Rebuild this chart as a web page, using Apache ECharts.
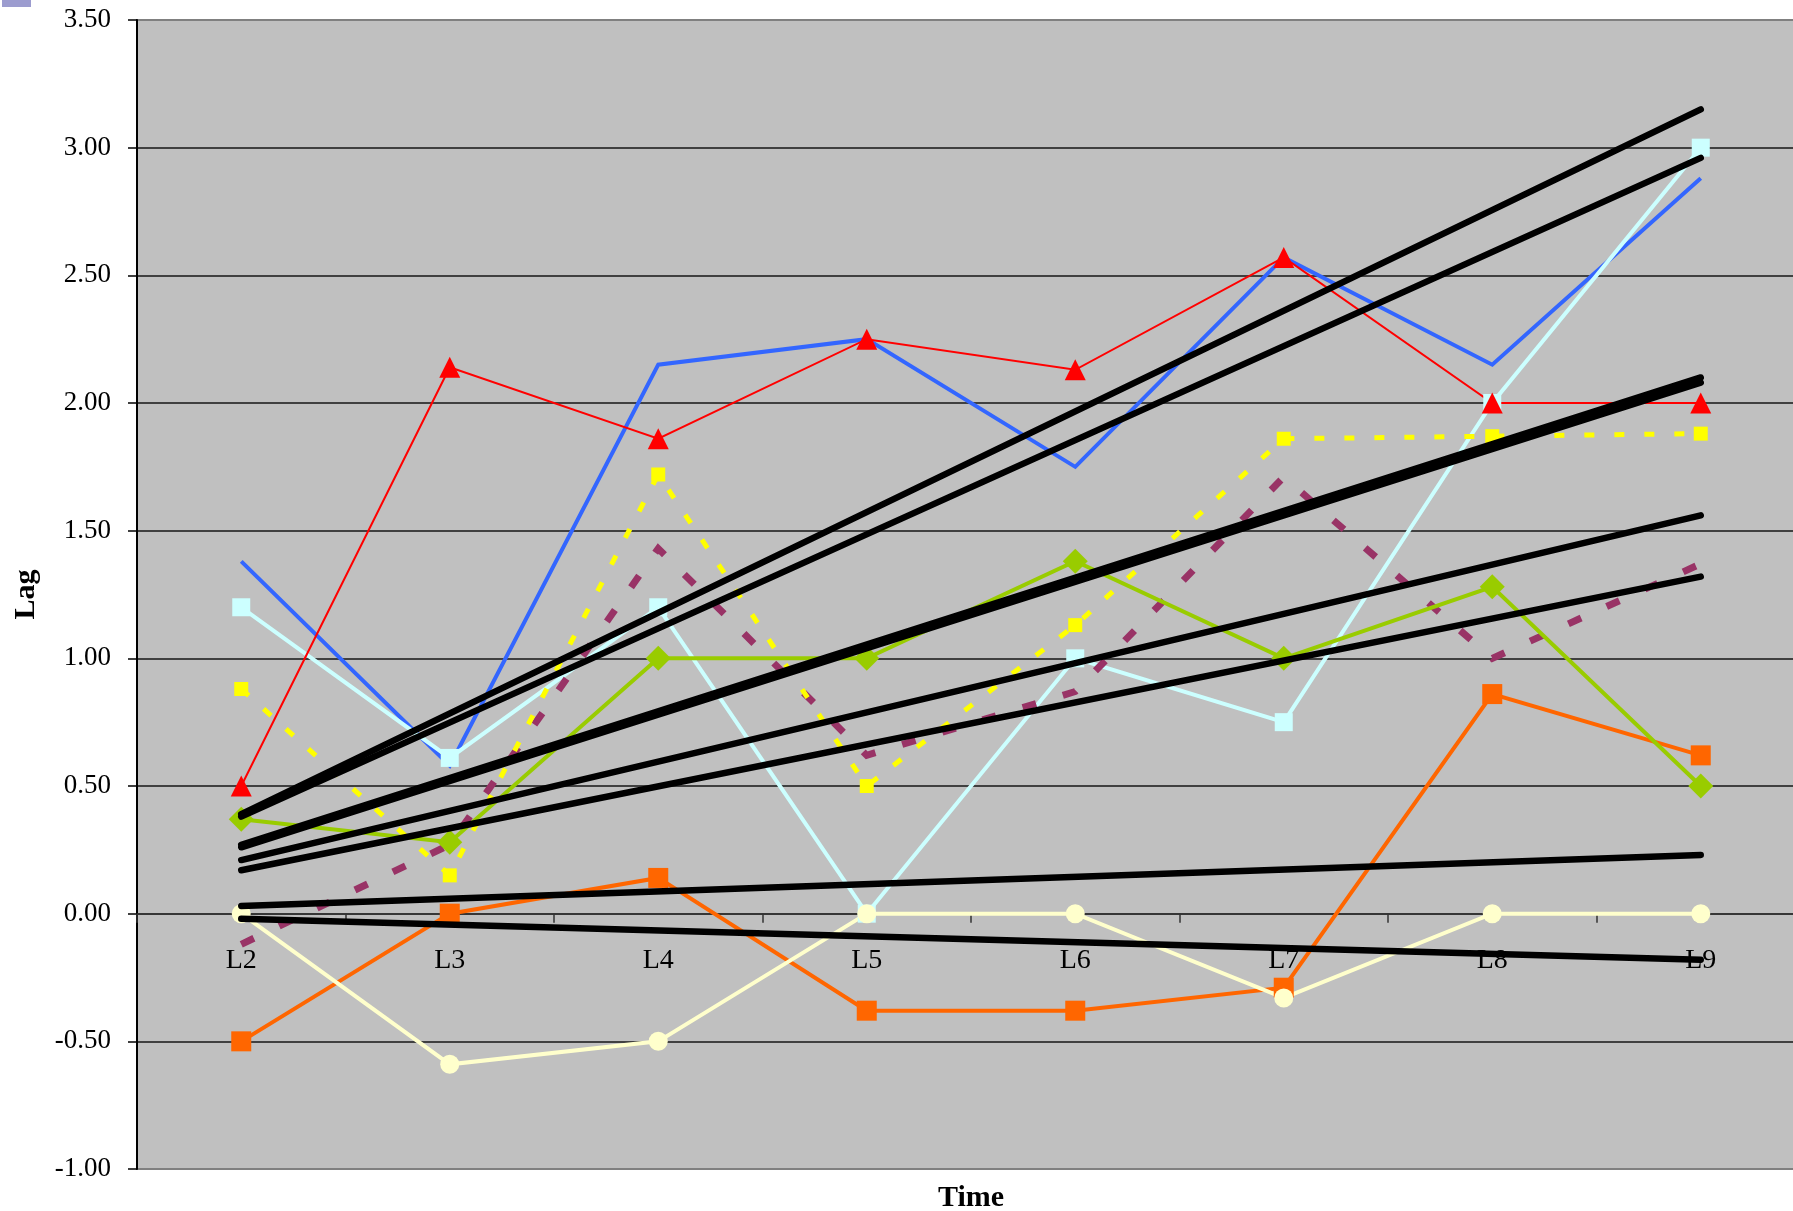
<!DOCTYPE html>
<html>
<head>
<meta charset="utf-8">
<title>Lag over time</title>
<script src="https://cdn.jsdelivr.net/npm/echarts@6/dist/echarts.min.js"></script>
<style>
  html, body { margin: 0; padding: 0; background: #ffffff; }
  #chart { width: 1793px; height: 1211px; }
</style>
</head>
<body>
<div id="chart"></div>
<script>
// Time points on the category axis
const categories = ['L2', 'L3', 'L4', 'L5', 'L6', 'L7', 'L8', 'L9'];

// Value axis ticks
const yMin = -1.0;
const yMax = 3.5;
const yStep = 0.5;

// Lag series
const redTriangle   = [0.50, 2.14, 1.86, 2.25, 2.13, 2.57, 2.00, 2.00];
const blueLine      = [1.38, 0.58, 2.15, 2.25, 1.75, 2.57, 2.15, 2.88];
const cyanSquare    = [1.20, 0.61, 1.20, 0.00, 1.00, 0.75, 2.00, 3.00];
const yellowDashed  = [0.88, 0.15, 1.72, 0.50, 1.13, 1.86, 1.87, 1.88];
const purpleDashed  = [-0.12, 0.27, 1.43, 0.62, 0.87, 1.71, 1.00, 1.37];
const greenDiamond  = [0.37, 0.28, 1.00, 1.00, 1.38, 1.00, 1.28, 0.50];
const orangeSquare  = [-0.50, 0.00, 0.14, -0.38, -0.38, -0.29, 0.86, 0.62];
const creamCircle   = [0.00, -0.59, -0.50, 0.00, 0.00, -0.33, 0.00, 0.00];

// Straight trend lines: value at the first and at the last time point
const trendStart = [0.39, 0.38, 0.27, 0.26, 0.21, 0.17, 0.03, -0.02];
const trendEnd   = [3.15, 2.96, 2.10, 2.08, 1.56, 1.32, 0.23, -0.18];

const serif = '"Liberation Serif", "DejaVu Serif", serif';

// Plot box
const gridTop = 20;
const gridBottom = 42;
const chartHeight = 1211;
const plotHeight = chartHeight - gridTop - gridBottom;
// Category labels hang just under the zero line rather than the plot's bottom edge
const zeroFromBottom = (0 - yMin) / (yMax - yMin) * plotHeight;
const xLabelMargin = 33 - zeroFromBottom;

function lineSeries(name, data, color, width, opts) {
  opts = opts || {};
  return {
    name: name,
    type: 'line',
    data: data,
    symbol: opts.symbol || 'none',
    symbolSize: opts.symbolSize || 0,
    showSymbol: !!opts.symbol,
    itemStyle: { color: opts.markerColor || color },
    lineStyle: {
      color: color,
      width: width,
      type: opts.dash || 'solid',
      join: 'miter'
    },
    z: opts.z || 3,
    animation: false,
    emphasis: { disabled: true },
    silent: true
  };
}

const series = [
  lineSeries('blue', blueLine, '#3366FF', 4, { z: 3 }),
  lineSeries('cyan', cyanSquare, '#CCFFFF', 4, { symbol: 'rect', symbolSize: 18, z: 3 }),
  lineSeries('red', redTriangle, '#FF0000', 2, { symbol: 'triangle', symbolSize: [21, 21], z: 3 }),
  lineSeries('purple', purpleDashed, '#993366', 7, { dash: [14, 28], z: 3 }),
  lineSeries('orange', orangeSquare, '#FF6600', 4, { symbol: 'rect', symbolSize: 20, z: 3 }),
  lineSeries('cream', creamCircle, '#FFFFCC', 4, { symbol: 'circle', symbolSize: 19, z: 3 }),
  lineSeries('green', greenDiamond, '#99CC00', 4, { symbol: 'diamond', symbolSize: [25, 25], z: 3 }),
  lineSeries('yellow', yellowDashed, '#FFFF00', 5, { dash: [10, 20], symbol: 'rect', symbolSize: 14, z: 3 })
];

// Trend lines drawn on top of all series
trendStart.forEach(function (v0, i) {
  series.push({
    name: 'trend' + i,
    type: 'line',
    data: [[categories[0], v0], [categories[categories.length - 1], trendEnd[i]]],
    symbol: 'none',
    lineStyle: { color: '#000000', width: 6.5, cap: 'round' },
    z: 5,
    animation: false,
    emphasis: { disabled: true },
    silent: true
  });
});

const chart = echarts.init(document.getElementById('chart'), null, { renderer: 'canvas' });

chart.setOption({
  backgroundColor: '#ffffff',
  animation: false,
  grid: {
    left: 137,
    top: gridTop,
    right: -12,
    bottom: gridBottom,
    containLabel: false,
    outerBoundsMode: 'none',
    show: true,
    backgroundColor: '#C0C0C0',
    borderColor: '#808080',
    borderWidth: 2
  },
  graphic: [{
    type: 'rect',
    shape: { x: 2, y: 0, width: 29, height: 7 },
    style: { fill: '#9C9CCF' }
  }],
  xAxis: {
    type: 'category',
    data: categories,
    boundaryGap: true,
    name: 'Time',
    nameLocation: 'middle',
    nameGap: 14,
    nameTextStyle: { fontFamily: serif, fontSize: 30, fontWeight: 'bold', color: '#000' },
    axisLine: { onZero: true, lineStyle: { color: '#333333', width: 1.5 } },
    axisTick: { show: true, length: 9, lineStyle: { color: '#333333', width: 1.5 } },
    axisLabel: { fontFamily: serif, fontSize: 28, color: '#000', margin: xLabelMargin },
    splitLine: { show: false }
  },
  yAxis: {
    type: 'value',
    min: yMin,
    max: yMax,
    interval: yStep,
    name: 'Lag',
    nameLocation: 'middle',
    nameRotate: 90,
    nameGap: 96,
    nameTextStyle: { fontFamily: serif, fontSize: 30, fontWeight: 'bold', color: '#000' },
    axisLine: { show: true, lineStyle: { color: '#000000', width: 2 } },
    axisTick: { show: true, length: 9, lineStyle: { color: '#000000', width: 1.5 } },
    axisLabel: {
      fontFamily: serif, fontSize: 27, color: '#000', margin: 26,
      formatter: function (v) { return v.toFixed(2); }
    },
    splitLine: {
      show: true,
      showMinLine: false,
      showMaxLine: false,
      lineStyle: { color: '#404040', width: 2 }
    }
  },
  series: series
});
</script>
</body>
</html>
